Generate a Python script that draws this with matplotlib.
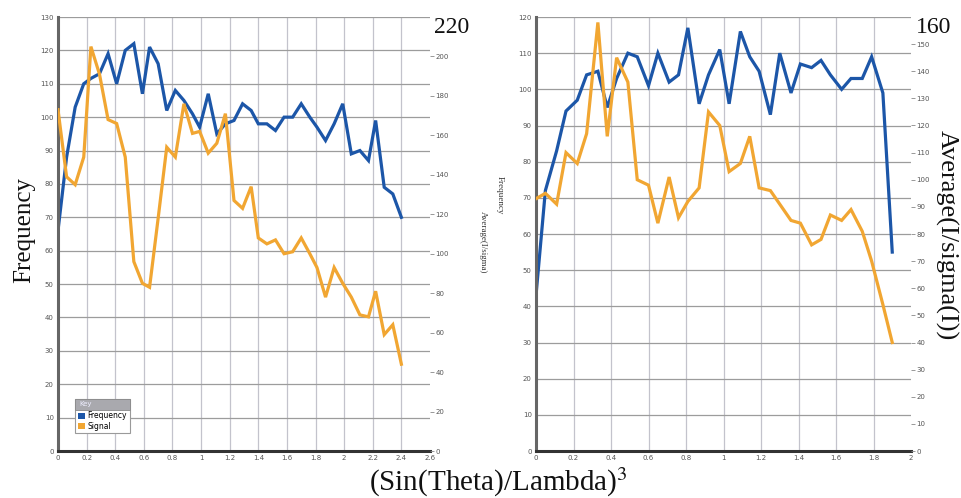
import matplotlib
matplotlib.use('Agg')
import matplotlib.pyplot as plt
from matplotlib.patches import Patch, Rectangle

# ---------------- data ----------------
left_x = [0, 0.06, 0.12, 0.18, 0.23, 0.29, 0.35, 0.41, 0.47, 0.53, 0.59, 0.64, 0.70, 0.76,
          0.82, 0.88, 0.94, 0.99, 1.05, 1.11, 1.17, 1.23, 1.29, 1.35, 1.40, 1.46, 1.52, 1.58,
          1.64, 1.70, 1.76, 1.81, 1.87, 1.93, 1.99, 2.05, 2.11, 2.17, 2.22, 2.28, 2.34, 2.40]
left_frequency = [66, 88, 103, 110, 111.6, 113, 119, 110, 120, 122,
                  107, 121, 116, 102, 108, 105, 101, 97, 107, 95,
                  98, 99, 104, 102, 98, 98, 96, 100, 100, 104,
                  100, 97, 93, 98, 104, 89, 90, 87, 99, 79,
                  77, 70]
left_signal = [173, 139, 135, 149, 205, 191, 168, 166, 149, 96,
               85, 83, 118, 154, 149, 176, 161, 162, 151, 156,
               171, 127, 123, 134, 108, 105, 107, 100, 101, 108,
               100, 93, 78, 93, 85, 78, 69, 68, 81, 59,
               64, 44]

right_x = [0, 0.05, 0.11, 0.16, 0.22, 0.27, 0.33, 0.38, 0.43, 0.49, 0.54, 0.60, 0.65, 0.71,
           0.76, 0.81, 0.87, 0.92, 0.98, 1.03, 1.09, 1.14, 1.19, 1.25, 1.30, 1.36, 1.41, 1.47,
           1.52, 1.57, 1.63, 1.68, 1.74, 1.79, 1.85, 1.90]
right_frequency = [43, 72, 83, 94, 97, 104, 105, 95, 103, 110,
                   109, 101, 110, 102, 104, 117, 96, 104, 111, 96,
                   116, 109, 105, 93, 110, 99, 107, 106, 108, 104,
                   100, 103, 103, 109, 99, 55]
right_signal = [93, 95, 91, 110, 106, 117, 158, 116, 145, 136,
                100, 98, 84, 101, 86, 92, 97, 125, 120, 103,
                106, 116, 97, 96, 91, 85, 84, 76, 78, 87,
                85, 89, 81, 70, 54, 40]

left_xticks = [0, 0.2, 0.4, 0.6, 0.8, 1, 1.2, 1.4, 1.6, 1.8, 2, 2.2, 2.4, 2.6]
right_xticks = [0, 0.2, 0.4, 0.6, 0.8, 1, 1.2, 1.4, 1.6, 1.8, 2]
left_freq_ticks = list(range(0, 131, 10))
right_freq_ticks = list(range(0, 121, 10))
left_sig_ticks = list(range(0, 201, 20))
right_sig_ticks = list(range(0, 151, 10))
left_sig_top = 220
right_sig_top = 160

series_names = ['Frequency', 'Signal']

# ---------------- style ----------------
BLUE = '#1c56a8'
ORANGE = '#f1a632'
TICKC = '#555555'
SERIF = ['Liberation Serif', 'DejaVu Serif']
plt.rcParams['mathtext.fontset'] = 'stix'

W, H = 962, 498
fig = plt.figure(figsize=(W / 100, H / 100), dpi=100)


def rect(x0, x1, y0, y1):
    return [x0 / W, 1 - y1 / H, (x1 - x0) / W, (y1 - y0) / H]


def panel(box, x, freq, sig, xticks, fticks, sticks, stop):
    ax = fig.add_axes(box)
    ax.set_xlim(xticks[0], xticks[-1])
    ax.set_ylim(fticks[0], fticks[-1])
    ax.set_xticks(xticks)
    ax.set_xticklabels([f'{v:g}' for v in xticks])
    ax.set_yticks(fticks)
    ax.grid(True, axis='y', color='#9c9c9c', lw=0.9)
    ax.grid(True, axis='x', color='#c3c3cc', lw=0.9)
    ax.set_axisbelow(True)
    ax.xaxis.get_gridlines()[-1].set_visible(False)
    ax.xaxis.get_gridlines()[0].set_visible(False)
    for s in ('top', 'right'):
        ax.spines[s].set_visible(False)
    ax.spines['left'].set_color('#666666')
    ax.spines['left'].set_linewidth(2.2)
    ax.spines['bottom'].set_color('#333333')
    ax.spines['bottom'].set_linewidth(2.2)
    ax.tick_params(axis='both', length=0, labelsize=5, labelcolor=TICKC, pad=3)
    ax.plot(x, freq, color=BLUE, lw=2.3, solid_joinstyle='miter')

    ax2 = ax.twinx()
    ax2.set_ylim(0, stop)
    ax2.set_yticks(sticks)
    for s in ax2.spines.values():
        s.set_visible(False)
    ax2.tick_params(axis='y', length=3, width=0.6, color='#888888', labelsize=5,
                    labelcolor=TICKC, pad=1)
    ax2.plot(x, sig, color=ORANGE, lw=2.3, solid_joinstyle='miter')
    ax2.text(1.012, 1.0, str(stop), transform=ax2.transAxes, ha='left', va='top',
             fontsize=17, family=SERIF, color='#111111')
    return ax, ax2


axL, axL2 = panel(rect(58, 430, 17, 451), left_x, left_frequency, left_signal,
                  left_xticks, left_freq_ticks, left_sig_ticks, left_sig_top)
axR, axR2 = panel(rect(536, 911, 17, 451), right_x, right_frequency, right_signal,
                  right_xticks, right_freq_ticks, right_sig_ticks, right_sig_top)

# legend (in left panel)
handles = [Patch(facecolor=BLUE, edgecolor='none', label=series_names[0]),
           Patch(facecolor=ORANGE, edgecolor='none', label=series_names[1])]
leg = axL2.legend(handles=handles, title=' ', loc='lower left',
                  bbox_to_anchor=(0.046, 0.041), borderaxespad=0,
                  fontsize=5.5, title_fontsize=6.5, handlelength=0.9, handleheight=0.9,
                  handletextpad=0.4, labelspacing=0.15, borderpad=0.35,
                  fancybox=False, framealpha=1, edgecolor='#9a9a9a')
leg.get_frame().set_linewidth(0.8)
fig.canvas.draw()
bb = leg.get_window_extent()
t0 = leg.get_texts()[0].get_window_extent()
hy0 = t0.y1 + 1.5
fig.add_artist(Rectangle((bb.x0 / W, hy0 / H), (bb.x1 - bb.x0) / W, (bb.y1 - hy0) / H,
                         transform=fig.transFigure, facecolor='#a9a9ae', edgecolor='#8a8a8a',
                         lw=0.6, zorder=10))
fig.text((bb.x0 + 4) / W, ((hy0 + bb.y1) / 2) / H, 'Key', fontsize=5, color='#eeeeff',
         ha='left', va='center', zorder=11)

# axis titles
fig.text(24 / W, 1 - 230 / H, 'Frequency', rotation=90, ha='center', va='center',
         fontsize=18, family=SERIF, color='#111111')
fig.text(946 / W, 1 - 235 / H, 'Average(I/sigma(I))', rotation=270, ha='center', va='center',
         fontsize=19, family=SERIF, color='#111111')
fig.text(483 / W, 1 - 242 / H, 'Average(I/sigma)', rotation=270, ha='center', va='center',
         fontsize=6.5, family=SERIF, color='#333333')
fig.text(500 / W, 1 - 195 / H, 'Frequency', rotation=270, ha='center', va='center',
         fontsize=6.5, family=SERIF, color='#333333')
fig.text(498 / W, 1 - 482 / H, '(Sin(Theta)/Lambda)$^3$', ha='center', va='center',
         fontsize=21, family=SERIF, color='#111111')

fig.savefig('out.png', dpi=100)
